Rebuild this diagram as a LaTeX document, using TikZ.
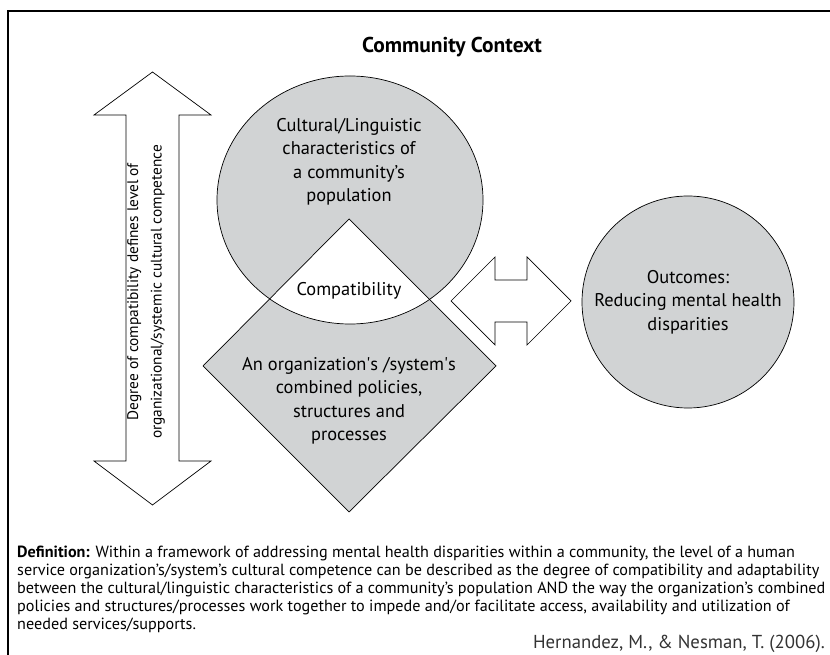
\documentclass[tikz,border=0pt]{standalone}
\usepackage{fontspec}
\setmainfont{PT Sans}
\definecolor{shapegray}{HTML}{D1D3D4}

\begin{document}
\begin{tikzpicture}[x=0.03cm, y=-0.03cm,
    shapefill/.style={fill=shapegray},
    outline/.style={draw=black, line width=0.6pt},
    labeltext/.style={font=\fontsize{15.7}{20}\selectfont, align=center, inner sep=0pt},
    deftext/.style={font=\fontsize{13.8}{15.3}\selectfont, inner sep=0pt}]
    \useasboundingbox (0,0) rectangle (830,655);

    % frame of the community context
    \draw[line width=1.1pt] (8,655) -- (8,11) -- (830,11);
    \node[font=\bfseries\fontsize{18.3}{20}\selectfont] (title) at (452,47) {Community Context};

    % vertical double arrow
    \draw[outline, fill=white] (152.5,72) -- (211,115) -- (179,115) -- (179,461) -- (211,461)
        -- (152.5,505) -- (94,461) -- (126,461) -- (126,115) -- (94,115) -- cycle;
    \node[labeltext, font=\fontsize{13.1}{20}\selectfont, rotate=90] (degree) at (146,292)
        {Degree of compatibility defines level of\\organizational/systemic cultural competence};

    % circle and diamond with the white overlap
    \fill[shapefill] (350,200) ellipse [x radius=3.99cm, y radius=3.72cm];
    \fill[shapefill] (349,219) -- (496,366) -- (349,512) -- (203,366) -- cycle;
    \begin{scope}
        \clip (350,200) ellipse [x radius=3.99cm, y radius=3.72cm];
        \fill[white] (349,219) -- (496,366) -- (349,512) -- (203,366) -- cycle;
    \end{scope}
    \draw[outline] (350,200) ellipse [x radius=3.99cm, y radius=3.72cm];
    \draw[outline] (349,219) -- (496,366) -- (349,512) -- (203,366) -- cycle;

    \node[labeltext] (culture) at (349,162)
        {Cultural/Linguistic\\characteristics of\\a community’s\\population};
    \node[labeltext] (compat) at (349,291) {Compatibility};
    \node[labeltext] (policies) at (349,401)
        {An organization\textquotesingle s /system\textquotesingle s\\combined policies,\\structures and\\processes};

    % horizontal double arrow
    \draw[outline, fill=white] (451,301) -- (495,257) -- (495,280) -- (527,280) -- (527,257)
        -- (571,301) -- (527,345) -- (527,322) -- (495,322) -- (495,345) -- cycle;

    % outcomes circle
    \draw[outline, shapefill] (688,302) circle (3.18cm);
    \node[labeltext] (outcomes) at (688,302) {Outcomes:\\Reducing mental health\\disparities};

    % definition and source
    \node[deftext, anchor=north west, align=left] (definition) at (17,546)
        {\textbf{Definition:} Within a framework of addressing mental health disparities within a community, the level of a human\\
        service organization’s/system’s cultural competence can be described as the degree of compatibility and adaptability\\
        between the cultural/linguistic characteristics of a community’s population AND the way the organization’s combined\\
        policies and structures/processes work together to impede and/or facilitate access, availability and utilization of\\
        needed services/supports.};
    \node[deftext, font=\fontsize{16}{18}\selectfont, anchor=east, text=black!80] (source) at (825,644)
        {Hernandez, M., \& Nesman, T. (2006).};
\end{tikzpicture}
\end{document}
